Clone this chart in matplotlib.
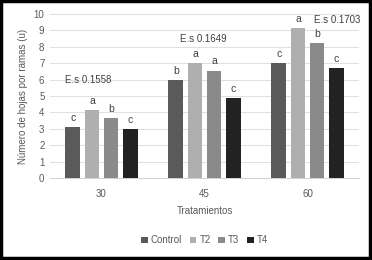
import matplotlib
matplotlib.use("Agg")
import matplotlib.pyplot as plt
import numpy as np
from matplotlib.patches import Rectangle

categories = ["30", "45", "60"]
series = ["Control", "T2", "T3", "T4"]
values = {
    "Control": [3.1, 5.95, 7.0],
    "T2": [4.15, 7.0, 9.15],
    "T3": [3.65, 6.55, 8.25],
    "T4": [3.0, 4.9, 6.7],
}
letters = {
    "Control": ["c", "b", "c"],
    "T2": ["a", "a", "a"],
    "T3": ["b", "a", "b"],
    "T4": ["c", "c", "c"],
}
es_labels = ["E.s 0.1558", "E.s 0.1649", "E.s 0.1703"]
colors = ["#5a5a5a", "#afafaf", "#8a8a8a", "#222222"]

plt.rcParams['font.family'] = ['Liberation Sans Narrow', 'Liberation Sans', 'DejaVu Sans']

fig = plt.figure(figsize=(3.72, 2.60), dpi=100)
ax = fig.add_axes([50/372, 1 - 178/260, 309/372, 164/260])

x = np.arange(len(categories))
step = 0.185
width = 0.145
for i, s in enumerate(series):
    pos = x + (i - 1.5) * step
    ax.bar(pos, values[s], width, color=colors[i], label=s, zorder=3)
    for p, v, l in zip(pos, values[s], letters[s]):
        ax.text(p, v + 0.25, l, ha="center", va="bottom", fontsize=7.5, color="#404040")

es_pos = [(-0.35, 5.65), (0.76, 8.2), (2.06, 9.3)]
for (px, py), t in zip(es_pos, es_labels):
    ax.text(px, py, t, ha="left", va="bottom", fontsize=7, color="#404040")

ax.set_xlim(-0.5, 2.5)
ax.set_ylim(0, 10)
ax.set_yticks(range(0, 11))
ax.set_xticks(x)
ax.set_xticklabels(categories)
ax.tick_params(axis="both", length=0, labelsize=7, colors="#595959", pad=4)
ax.tick_params(axis="x", pad=8)
ax.grid(axis="y", color="#e0e0e0", linewidth=0.7, zorder=0)
for sp in ["top", "right", "left"]:
    ax.spines[sp].set_visible(False)
ax.spines["bottom"].set_color("#d0d0d0")
ax.spines["bottom"].set_linewidth(0.7)

ax.set_ylabel("Número de hojas por ramas (u)", fontsize=7, color="#595959", labelpad=4)
ax.set_xlabel("Tratamientos", fontsize=7, color="#595959", labelpad=5)

leg = ax.legend(loc="center", bbox_to_anchor=(0.5, -0.38), ncol=4, frameon=False,
                fontsize=7, handlelength=0.7, handleheight=0.7, handletextpad=0.3,
                columnspacing=0.8, labelcolor="#595959")

fig.patches.append(Rectangle((0.003, 0.006), 0.992, 0.99, transform=fig.transFigure,
                             fill=False, edgecolor="black", linewidth=2.5))

fig.savefig("out.png", dpi=100)
